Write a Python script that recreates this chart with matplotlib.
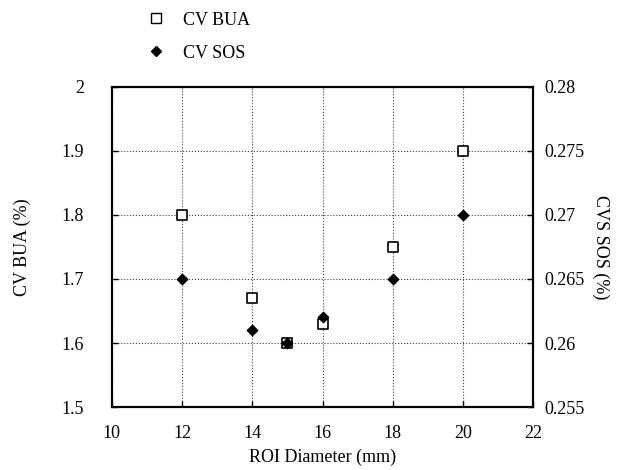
import matplotlib
matplotlib.use("Agg")
import matplotlib.pyplot as plt
from matplotlib.lines import Line2D

plt.rcParams['font.family'] = ['Liberation Serif', 'DejaVu Serif']

# data
diameter = [12, 14, 15, 16, 18, 20]
cv_bua = [1.80, 1.67, 1.60, 1.63, 1.75, 1.90]
cv_sos = [0.265, 0.261, 0.260, 0.262, 0.265, 0.270]

x_ticks = [10, 12, 14, 16, 18, 20, 22]
bua_ticks = [1.5, 1.6, 1.7, 1.8, 1.9, 2.0]
bua_labels = ['1.5', '1.6', '1.7', '1.8', '1.9', '2']
sos_ticks = [0.255, 0.26, 0.265, 0.27, 0.275, 0.28]
sos_labels = ['0.255', '0.26', '0.265', '0.27', '0.275', '0.28']

fig = plt.figure(figsize=(6.25, 4.7), dpi=100)
ax = fig.add_axes([0.179, 0.134, 0.674, 0.681])
ax2 = ax.twinx()

ax.scatter(diameter, cv_bua, marker='s', s=55, facecolors='white',
           edgecolors='black', linewidths=1.2, zorder=3)
ax2.scatter(diameter, cv_sos, marker='D', s=28, color='black', zorder=4)

ax.set_xlim(10, 22)
ax.set_ylim(1.5, 2.0)
ax2.set_ylim(0.255, 0.28)

ax.set_xticks(x_ticks)
ax.set_yticks(bua_ticks)
ax.set_yticklabels(bua_labels)
ax2.set_yticks(sos_ticks)
ax2.set_yticklabels(sos_labels)

ax.grid(True, linestyle=':', color='#444444', linewidth=0.8)
ax.set_axisbelow(True)

ax.tick_params(axis='y', direction='in', length=4, width=1, labelsize=13, pad=20)
ax.tick_params(axis='x', direction='in', length=4, width=1, labelsize=13, pad=13)
ax2.tick_params(axis='y', direction='in', length=4, width=1, labelsize=13, pad=8)
for a in (ax, ax2):
    for sp in a.spines.values():
        sp.set_linewidth(1.5)

ax.set_xlabel('ROI Diameter (mm)', fontsize=13, labelpad=5)
ax.set_ylabel('CV BUA (%)', fontsize=13, labelpad=22)
ax2.set_ylabel('CVS SOS (%)', fontsize=13, rotation=270, labelpad=18)

handles = [
    Line2D([], [], marker='s', linestyle='none', markersize=7,
           markerfacecolor='white', markeredgecolor='black'),
    Line2D([], [], marker='D', linestyle='none', markersize=5, color='black'),
]
fig.legend(handles, ['CV BUA', 'CV SOS'], loc='upper left',
           bbox_to_anchor=(0.195, 1.01), frameon=False, fontsize=13,
           handletextpad=0.5, labelspacing=0.9)

fig.savefig('out.png', dpi=100)
